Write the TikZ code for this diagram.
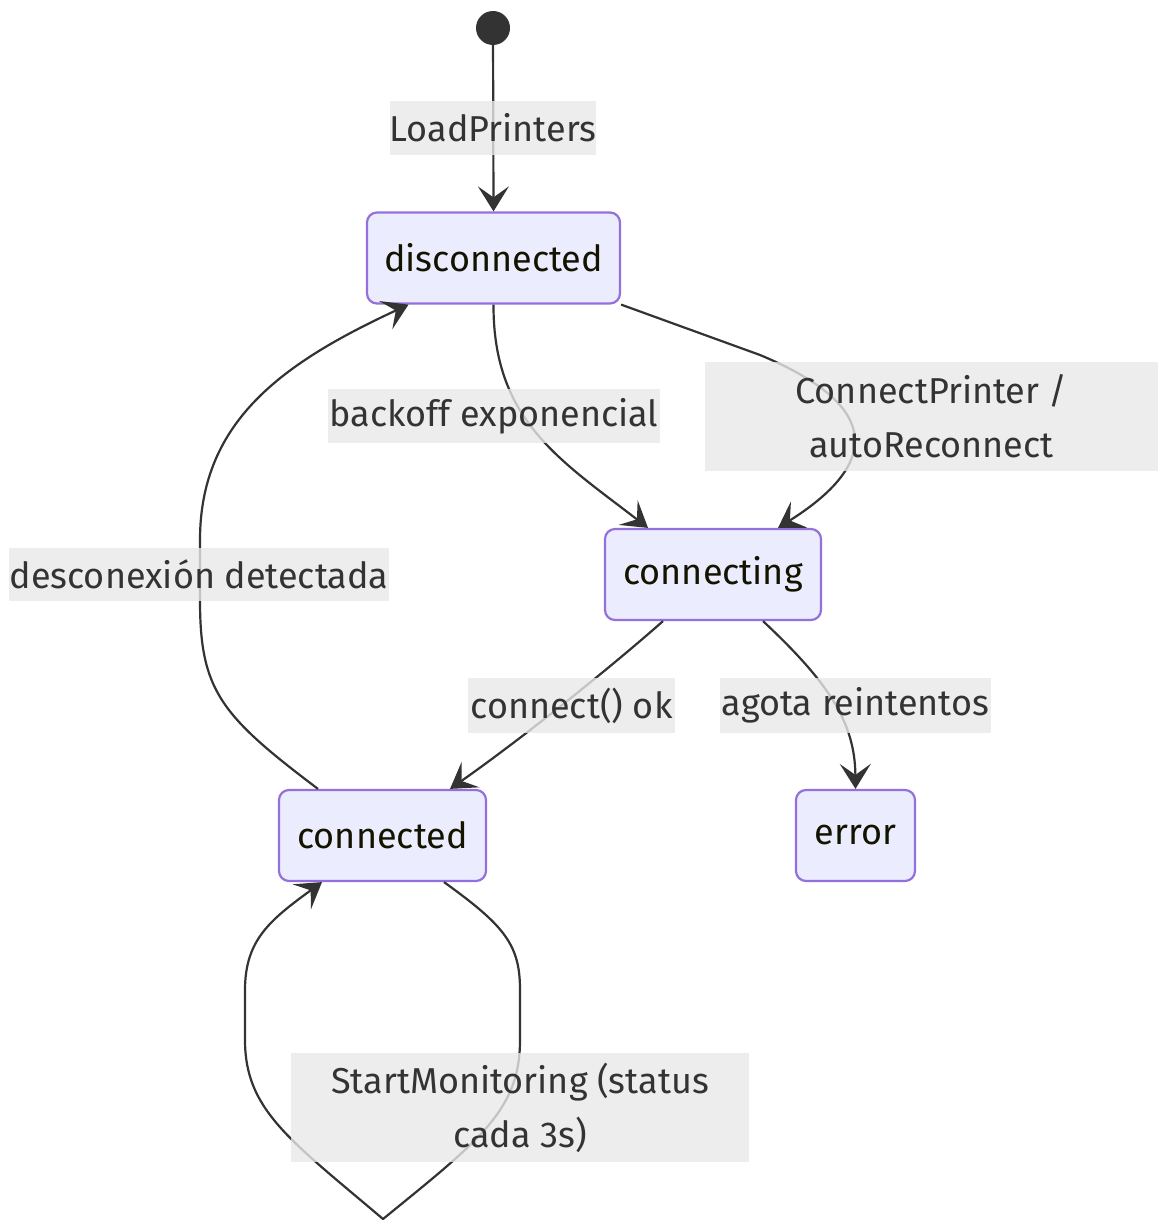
\documentclass[tikz,border=0pt]{standalone}
\usepackage{fontspec}
\setmainfont{Fira Sans}
\usetikzlibrary{arrows.meta,calc}
\definecolor{nodefill}{HTML}{ECECFF}
\definecolor{nodeline}{HTML}{9370DB}
\definecolor{edgecol}{HTML}{333333}
\definecolor{lblfill}{HTML}{E8E8E8}
\definecolor{nodetext}{HTML}{131300}
\tikzset{
  state/.style={draw=nodeline, fill=nodefill, line width=2.2pt, rounded corners=10pt,
    minimum height=91pt, inner sep=0pt, text=nodetext,
    font=\fontsize{36pt}{54pt}\selectfont},
  lbl/.style={fill=lblfill, fill opacity=0.8, text opacity=1, text=edgecol, inner sep=0pt,
    align=center, font=\fontsize{36pt}{54pt}\selectfont},
  edge/.style={draw=edgecol, line width=2.2pt,
    -{Stealth[length=25pt,width=31pt,inset=11pt]}},
}
\begin{document}
\begin{tikzpicture}[x=1pt,y=-1pt]
\useasboundingbox (0,0) rectangle (1158,1220);
% start
\node[circle, fill=edgecol, minimum size=34pt, inner sep=0pt] (start) at (493,28) {};
% states
\node[state, minimum width=253pt] (dis) at (493.5,258) {disconnected};
\node[state, minimum width=216pt] (cing) at (713,574.5) {connecting};
\node[state, minimum width=207pt] (ced) at (382.5,835.5) {connected};
\node[state, minimum width=119pt] (err) at (855.5,835.5) {error};
% edge anchors
\coordinate (d1) at ($(dis.south)+(0,0)$);
\coordinate (d2) at ($(dis.south east)+(0,0)$);
\coordinate (d3) at ($(dis.south)+(-85,0)$);
\coordinate (c1) at ($(cing.north)+(-65,0)$);
\coordinate (c2) at ($(cing.north)+(65,0)$);
\coordinate (c3) at ($(cing.south)+(-50,0)$);
\coordinate (c4) at ($(cing.south)+(50,0)$);
\coordinate (e1) at ($(ced.north)+(67.5,0)$);
\coordinate (e2) at ($(ced.north)+(-64.5,0)$);
\coordinate (e3) at ($(ced.south)+(61.5,0)$);
\coordinate (e4) at ($(ced.south)+(-60.5,0)$);
\coordinate (r1) at (err.north);
\coordinate (loopbot) at (383,1219);
% edges
\draw[edge] (start) -- (dis.north);
\draw[edge] (d1) .. controls (493,420) and (560,460) .. (c1);
\draw[edge] (d2) -- (760,355) .. controls (885,407) and (878,465) .. (c2);
\draw[edge] (c3) .. controls (610,668) and (520,740) .. (e1);
\draw[edge] (c4) .. controls (828,682) and (855,722) .. (r1);
\draw[edge] (e2) .. controls (220,715) and (200,690) .. (200,600) -- (200,540)
  .. controls (200,420) and (285,362) .. (d3);
\draw[edge] (e3) .. controls (505,926) and (520,945) .. (520,990) -- (520,1040)
  .. controls (520,1110) and (480,1140) .. (loopbot)
  .. controls (290,1140) and (245,1110) .. (245,1040) -- (245,990)
  .. controls (245,940) and (270,920) .. (e4);
% labels
\node[lbl, minimum width=204pt, minimum height=54pt] (l1) at (493,128) {LoadPrinters};
\node[lbl, minimum width=332pt, minimum height=54pt] (l2) at (494,416) {backoff exponencial};
\node[lbl, minimum width=453pt, minimum height=109pt] (l3) at (931.5,416.5) {ConnectPrinter /\\autoReconnect};
\node[lbl, minimum width=380pt, minimum height=53pt] (l4) at (199,574.5) {desconexión detectada};
\node[lbl, minimum width=207pt, minimum height=55pt] (l5) at (571.5,705.5) {connect() ok};
\node[lbl, minimum width=271pt, minimum height=55pt] (l6) at (855.5,705.5) {agota reintentos};
\node[lbl, minimum width=458pt, minimum height=109pt] (l7) at (520,1107.5) {StartMonitoring (status\\cada 3s)};
\end{tikzpicture}
\end{document}
